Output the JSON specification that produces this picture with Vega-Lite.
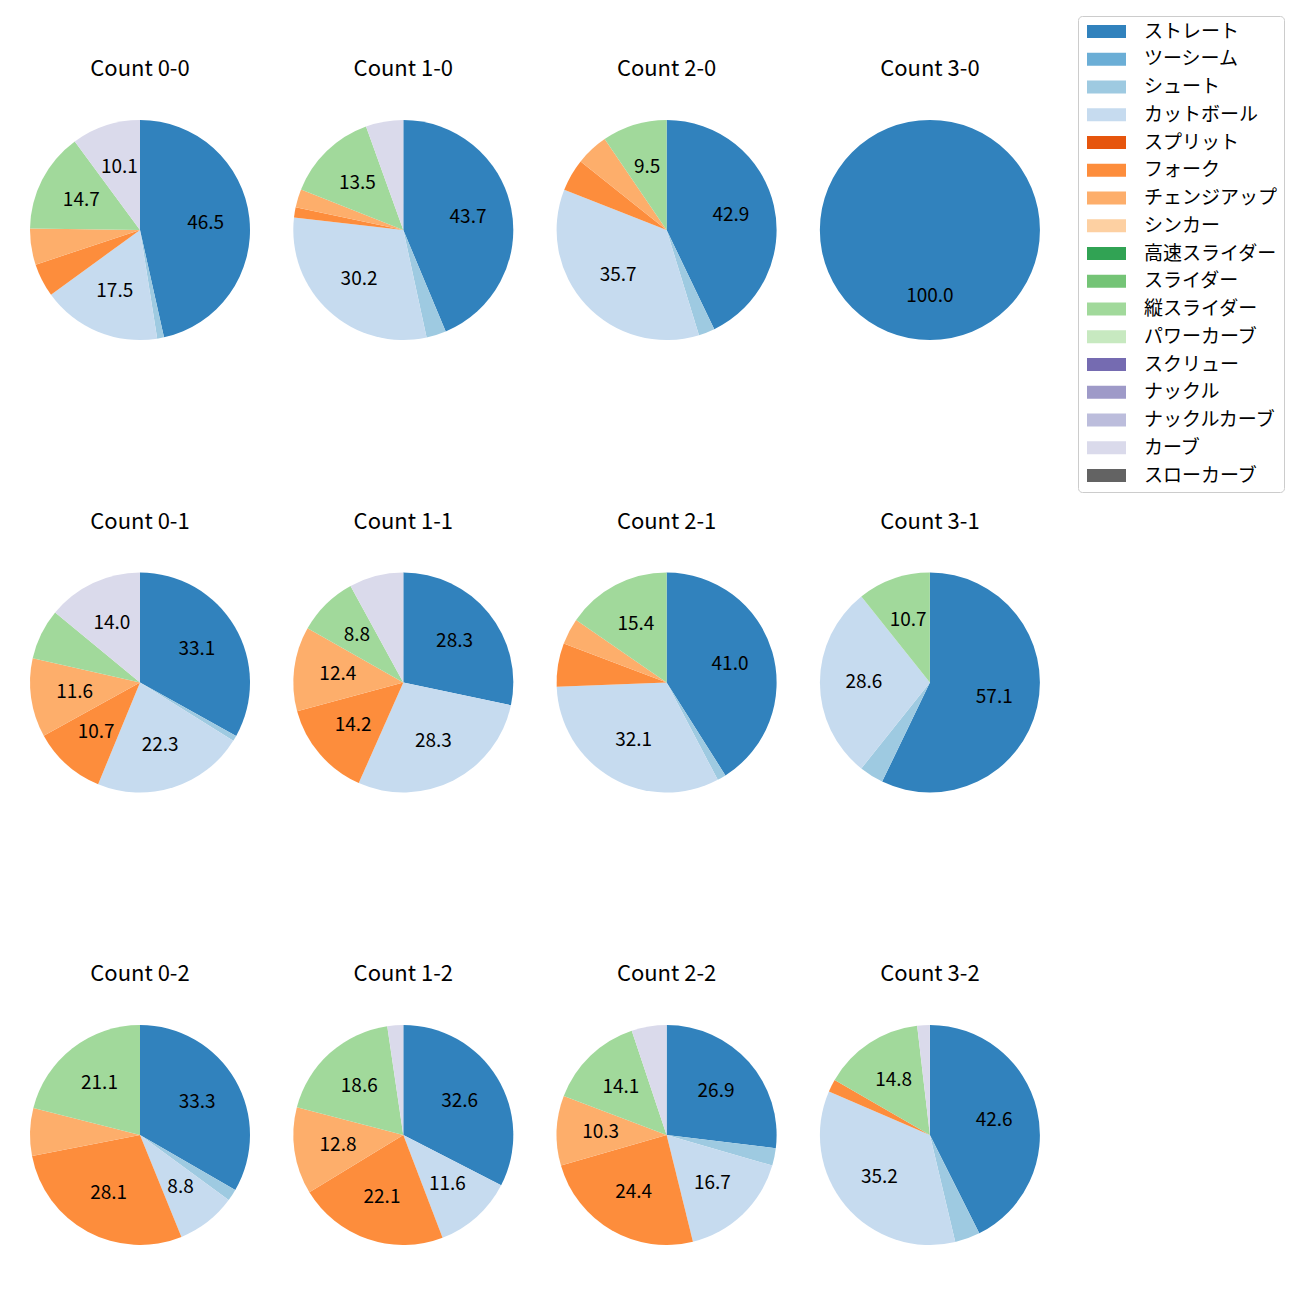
{
  "$schema": "https://vega.github.io/schema/vega-lite/v6.json",
  "padding": {"left": 30, "top": 15, "right": 0, "bottom": 0},
  "background": "white",
  "data": {"values": [
    {"count": "Count 0-0", "pitch": "ストレート", "k": 1, "pct": 46.5},
    {"count": "Count 0-0", "pitch": "シュート", "k": 3, "pct": 1.0},
    {"count": "Count 0-0", "pitch": "カットボール", "k": 4, "pct": 17.5},
    {"count": "Count 0-0", "pitch": "フォーク", "k": 6, "pct": 4.9},
    {"count": "Count 0-0", "pitch": "チェンジアップ", "k": 7, "pct": 5.3},
    {"count": "Count 0-0", "pitch": "縦スライダー", "k": 11, "pct": 14.7},
    {"count": "Count 0-0", "pitch": "カーブ", "k": 16, "pct": 10.1},
    {"count": "Count 1-0", "pitch": "ストレート", "k": 1, "pct": 43.7},
    {"count": "Count 1-0", "pitch": "シュート", "k": 3, "pct": 2.9},
    {"count": "Count 1-0", "pitch": "カットボール", "k": 4, "pct": 30.2},
    {"count": "Count 1-0", "pitch": "フォーク", "k": 6, "pct": 1.5},
    {"count": "Count 1-0", "pitch": "チェンジアップ", "k": 7, "pct": 2.7},
    {"count": "Count 1-0", "pitch": "縦スライダー", "k": 11, "pct": 13.5},
    {"count": "Count 1-0", "pitch": "カーブ", "k": 16, "pct": 5.5},
    {"count": "Count 2-0", "pitch": "ストレート", "k": 1, "pct": 42.86},
    {"count": "Count 2-0", "pitch": "シュート", "k": 3, "pct": 2.38},
    {"count": "Count 2-0", "pitch": "カットボール", "k": 4, "pct": 35.71},
    {"count": "Count 2-0", "pitch": "フォーク", "k": 6, "pct": 4.76},
    {"count": "Count 2-0", "pitch": "チェンジアップ", "k": 7, "pct": 4.76},
    {"count": "Count 2-0", "pitch": "縦スライダー", "k": 11, "pct": 9.52},
    {"count": "Count 3-0", "pitch": "ストレート", "k": 1, "pct": 100.0},
    {"count": "Count 0-1", "pitch": "ストレート", "k": 1, "pct": 33.06},
    {"count": "Count 0-1", "pitch": "シュート", "k": 3, "pct": 0.83},
    {"count": "Count 0-1", "pitch": "カットボール", "k": 4, "pct": 22.31},
    {"count": "Count 0-1", "pitch": "フォーク", "k": 6, "pct": 10.74},
    {"count": "Count 0-1", "pitch": "チェンジアップ", "k": 7, "pct": 11.57},
    {"count": "Count 0-1", "pitch": "縦スライダー", "k": 11, "pct": 7.44},
    {"count": "Count 0-1", "pitch": "カーブ", "k": 16, "pct": 14.02},
    {"count": "Count 1-1", "pitch": "ストレート", "k": 1, "pct": 28.32},
    {"count": "Count 1-1", "pitch": "カットボール", "k": 4, "pct": 28.32},
    {"count": "Count 1-1", "pitch": "フォーク", "k": 6, "pct": 14.16},
    {"count": "Count 1-1", "pitch": "チェンジアップ", "k": 7, "pct": 12.39},
    {"count": "Count 1-1", "pitch": "縦スライダー", "k": 11, "pct": 8.85},
    {"count": "Count 1-1", "pitch": "カーブ", "k": 16, "pct": 7.96},
    {"count": "Count 2-1", "pitch": "ストレート", "k": 1, "pct": 41.03},
    {"count": "Count 2-1", "pitch": "シュート", "k": 3, "pct": 1.28},
    {"count": "Count 2-1", "pitch": "カットボール", "k": 4, "pct": 32.08},
    {"count": "Count 2-1", "pitch": "フォーク", "k": 6, "pct": 6.41},
    {"count": "Count 2-1", "pitch": "チェンジアップ", "k": 7, "pct": 3.85},
    {"count": "Count 2-1", "pitch": "縦スライダー", "k": 11, "pct": 15.38},
    {"count": "Count 3-1", "pitch": "ストレート", "k": 1, "pct": 57.14},
    {"count": "Count 3-1", "pitch": "シュート", "k": 3, "pct": 3.57},
    {"count": "Count 3-1", "pitch": "カットボール", "k": 4, "pct": 28.57},
    {"count": "Count 3-1", "pitch": "縦スライダー", "k": 11, "pct": 10.71},
    {"count": "Count 0-2", "pitch": "ストレート", "k": 1, "pct": 33.33},
    {"count": "Count 0-2", "pitch": "シュート", "k": 3, "pct": 1.75},
    {"count": "Count 0-2", "pitch": "カットボール", "k": 4, "pct": 8.77},
    {"count": "Count 0-2", "pitch": "フォーク", "k": 6, "pct": 28.07},
    {"count": "Count 0-2", "pitch": "チェンジアップ", "k": 7, "pct": 7.02},
    {"count": "Count 0-2", "pitch": "縦スライダー", "k": 11, "pct": 21.05},
    {"count": "Count 1-2", "pitch": "ストレート", "k": 1, "pct": 32.56},
    {"count": "Count 1-2", "pitch": "カットボール", "k": 4, "pct": 11.63},
    {"count": "Count 1-2", "pitch": "フォーク", "k": 6, "pct": 22.09},
    {"count": "Count 1-2", "pitch": "チェンジアップ", "k": 7, "pct": 12.79},
    {"count": "Count 1-2", "pitch": "縦スライダー", "k": 11, "pct": 18.6},
    {"count": "Count 1-2", "pitch": "カーブ", "k": 16, "pct": 2.33},
    {"count": "Count 2-2", "pitch": "ストレート", "k": 1, "pct": 26.92},
    {"count": "Count 2-2", "pitch": "シュート", "k": 3, "pct": 2.56},
    {"count": "Count 2-2", "pitch": "カットボール", "k": 4, "pct": 16.67},
    {"count": "Count 2-2", "pitch": "フォーク", "k": 6, "pct": 24.36},
    {"count": "Count 2-2", "pitch": "チェンジアップ", "k": 7, "pct": 10.26},
    {"count": "Count 2-2", "pitch": "縦スライダー", "k": 11, "pct": 14.1},
    {"count": "Count 2-2", "pitch": "カーブ", "k": 16, "pct": 5.13},
    {"count": "Count 3-2", "pitch": "ストレート", "k": 1, "pct": 42.59},
    {"count": "Count 3-2", "pitch": "シュート", "k": 3, "pct": 3.7},
    {"count": "Count 3-2", "pitch": "カットボール", "k": 4, "pct": 35.19},
    {"count": "Count 3-2", "pitch": "フォーク", "k": 6, "pct": 1.85},
    {"count": "Count 3-2", "pitch": "縦スライダー", "k": 11, "pct": 14.81},
    {"count": "Count 3-2", "pitch": "カーブ", "k": 16, "pct": 1.85}
  ]},
  "facet": {
    "field": "count", "type": "nominal",
    "sort": ["Count 0-0", "Count 1-0", "Count 2-0", "Count 3-0", "Count 0-1", "Count 1-1", "Count 2-1", "Count 3-1", "Count 0-2", "Count 1-2", "Count 2-2", "Count 3-2"],
    "header": {"title": null, "labelFontSize": 22, "labelFont": "Noto Sans CJK JP", "labelColor": "black", "labelPadding": 39}
  },
  "columns": 4,
  "spacing": {"column": 43.3, "row": 170.5},
  "resolve": {"scale": {"theta": "independent"}},
  "spec": {
    "width": 220,
    "height": 220,
    "encoding": {
      "theta": {"field": "pct", "type": "quantitative", "stack": true},
      "order": {"field": "k", "type": "quantitative"},
      "color": {
        "field": "pitch", "type": "nominal",
        "scale": {
          "domain": ["ストレート", "ツーシーム", "シュート", "カットボール", "スプリット", "フォーク", "チェンジアップ", "シンカー", "高速スライダー", "スライダー", "縦スライダー", "パワーカーブ", "スクリュー", "ナックル", "ナックルカーブ", "カーブ", "スローカーブ"],
          "range": ["#3182bd", "#6baed6", "#9ecae1", "#c6dbef", "#e6550d", "#fd8d3c", "#fdae6b", "#fdd0a2", "#31a354", "#74c476", "#a1d99b", "#c7e9c0", "#756bb1", "#9e9ac8", "#bcbddc", "#dadaeb", "#636363"]
        },
        "legend": {
          "title": null,
          "orient": "none",
          "legendX": 1048,
          "legendY": -104,
          "labelFont": "Noto Sans CJK JP",
          "labelFontSize": 19,
          "labelColor": "black",
          "symbolType": "M-1,-1L5,-1L5,1L-1,1Z",
          "symbolSize": 169,
          "symbolStrokeWidth": 0,
          "symbolOpacity": 1,
          "labelOffset": 41,
          "rowPadding": 7.75,
          "padding": 6,
          "strokeColor": "#cccccc",
          "cornerRadius": 4,
          "fillColor": "white",
          "labelLimit": 300
        }
      }
    },
    "layer": [
      {"mark": {"type": "arc", "outerRadius": 110}},
      {
        "mark": {"type": "text", "radius": 66, "fontSize": 19, "font": "Noto Sans CJK JP", "color": "black"},
        "encoding": {
          "text": {"condition": {"test": "datum.pct >= 8.5", "field": "pct", "type": "quantitative", "format": ".1f"}, "value": ""},
          "color": {"value": "black"}
        }
      }
    ]
  },
  "config": {"view": {"stroke": null}}
}
